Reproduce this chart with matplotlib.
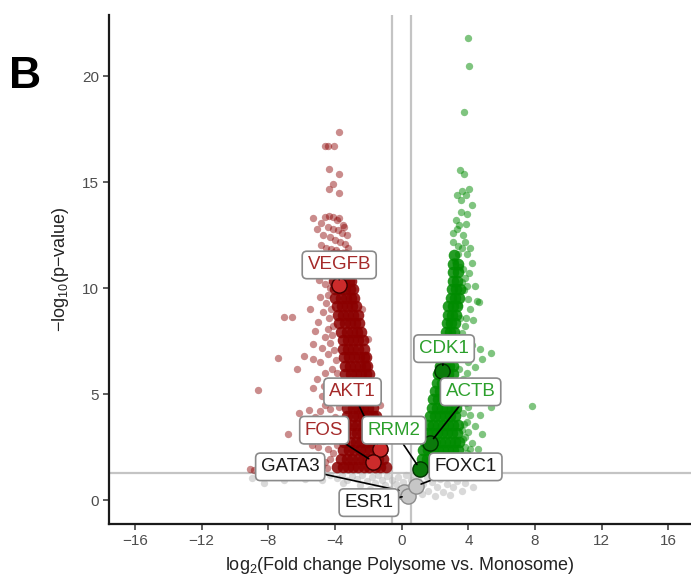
import matplotlib
matplotlib.use('Agg')
import matplotlib.pyplot as plt
import numpy as np

plt.rcParams['font.family'] = ['Liberation Sans', 'DejaVu Sans']
plt.rcParams['mathtext.fontset'] = 'custom'
plt.rcParams['mathtext.rm'] = 'Liberation Sans'
plt.rcParams['mathtext.default'] = 'regular'

# ---- data: (log2 FC, -log10 p) ----
# dense part of the down-regulated cloud, one row per -log10(p) level
red_core = [
    (1.55, [-3.9, -3.55, -3.2, -2.9, -2.6, -2.25, -1.95, -1.6, -1.3, -0.97]),
    (1.95, [-3.65, -3.3, -3.0, -2.65, -2.35, -2.0, -1.7, -1.4, -1.1]),
    (2.35, [-3.5, -3.15, -2.85, -2.5, -2.2, -1.9, -1.55, -1.2]),
    (2.75, [-3.45, -3.1, -2.75, -2.45, -2.1, -1.8, -1.5, -1.28]),
    (3.15, [-3.4, -3.05, -2.7, -2.4, -2.05, -1.75, -1.4]),
    (3.55, [-3.35, -3.0, -2.7, -2.35, -2.05, -1.75, -1.5]),
    (3.95, [-3.3, -2.95, -2.65, -2.3, -2.0, -1.7, -1.55]),
    (4.35, [-3.3, -2.95, -2.6, -2.3, -2.0, -1.7]),
    (4.75, [-3.3, -2.95, -2.6, -2.3, -2.0, -1.75]),
    (5.15, [-3.3, -2.95, -2.65, -2.35, -2.05, -1.8]),
    (5.55, [-3.35, -3.0, -2.7, -2.4, -2.1, -1.9]),
    (5.95, [-3.4, -3.05, -2.75, -2.45, -2.15, -1.98]),
    (6.35, [-3.4, -3.1, -2.8, -2.5, -2.2, -2.06]),
    (6.75, [-3.45, -3.15, -2.85, -2.55, -2.25, -2.15]),
    (7.15, [-3.5, -3.2, -2.9, -2.6, -2.25]),
    (7.55, [-3.55, -3.25, -2.95, -2.65, -2.35]),
    (7.95, [-3.65, -3.3, -3.0, -2.7, -2.45]),
    (8.35, [-3.75, -3.4, -3.1, -2.8, -2.55]),
    (8.75, [-3.85, -3.5, -3.2, -2.9, -2.65]),
    (9.15, [-3.9, -3.6, -3.3, -3.0, -2.75]),
    (9.55, [-4.0, -3.65, -3.35, -3.05, -2.85]),
    (9.95, [-4.0, -3.7, -3.4, -3.1, -2.95]),
    (10.35, [-4.05, -3.75, -3.45, -3.15, -3.05]),
    (10.75, [-4.1, -3.8, -3.5, -3.2]),
    (11.15, [-4.15, -3.85, -3.55, -3.3]),
    (11.55, [-4.1, -3.8, -3.5, -3.35]),
]

red_sparse = [
    (-5.35, 13.3), (-4.6, 13.35), (-4.35, 13.4), (-4.1, 13.35), (-3.9, 13.2),
    (-3.75, 13.3), (-3.5, 13.0), (-4.45, 12.9), (-4.15, 12.8), (-3.85, 12.75),
    (-3.6, 12.6), (-3.3, 12.5), (-4.7, 12.5), (-4.3, 12.4), (-4.0, 12.3),
    (-3.7, 12.2), (-3.4, 12.1), (-4.85, 12.05), (-4.55, 11.9), (-4.25, 11.85),
    (-3.95, 11.8), (-3.2, 11.9), (-4.75, 11.5), (-3.1, 11.3),
    (-4.85, 13.1), (-3.45, 12.9), (-5.1, 12.8), (-5.05, 11.6), (-4.5, 11.2),
    (-3.76, 17.37), (-4.61, 16.71), (-4.41, 16.71), (-4.09, 16.71),
    (-4.35, 15.64), (-3.76, 15.4), (-4.15, 14.9), (-4.35, 14.7), (-3.76, 14.5),
    (-4.8, 10.8), (-4.6, 10.2), (-4.9, 9.6), (-4.55, 9.3), (-4.7, 8.9),
    (-5.0, 8.4), (-4.4, 8.1), (-4.6, 7.7), (-5.35, 7.36), (-4.3, 7.4),
    (-4.45, 6.9), (-5.89, 6.79), (-5.35, 6.68), (-4.9, 6.5), (-4.2, 6.2),
    (-4.6, 6.0), (-5.1, 5.7), (-4.1, 5.5), (-4.4, 5.1), (-4.8, 4.9),
    (-4.05, 4.7), (-4.3, 4.3), (-4.9, 4.2), (-5.55, 4.25), (-6.15, 4.12),
    (-4.0, 3.9), (-4.6, 3.7), (-4.25, 3.4), (-5.0, 3.3), (-4.1, 3.0),
    (-4.7, 2.8), (-5.4, 2.6), (-4.4, 2.4), (-5.0, 2.1), (-4.6, 1.8),
    (-5.6, 1.7), (-5.2, 1.5), (-6.0, 1.5), (-6.81, 3.14), (-6.29, 6.21),
    (-7.45, 6.73), (-7.05, 8.65), (-6.61, 8.65), (-8.65, 5.19),
    (-9.08, 1.45), (-8.85, 1.42),
    (-4.0, 10.6), (-4.3, 10.0), (-4.45, 9.7), (-4.25, 9.0), (-4.35, 8.6),
    (-4.15, 8.2), (-4.2, 7.8), (-4.05, 7.1), (-3.95, 6.6), (-3.9, 6.0),
    (-3.85, 5.3), (-3.8, 4.9), (-3.75, 4.4), (-3.7, 3.7), (-3.8, 3.2),
    (-3.9, 2.6), (-4.1, 2.2), (-4.3, 1.95), (-4.5, 1.5), (-4.8, 1.6),
    (-5.0, 2.5), (-5.2, 3.0), (-5.2, 3.9), (-4.6, 4.5), (-4.65, 5.4),
    (-5.3, 5.3), (-4.8, 7.2), (-5.2, 8.0), (-5.5, 9.0), (-4.95, 10.4),
    (-1.0, 3.4), (-1.3, 4.5), (-1.6, 5.6), (-2.0, 7.6), (-2.4, 9.0),
]

# dense part of the up-regulated cloud
green_core = [
    (1.55, [1.1, 1.4, 1.7, 2.0, 2.3, 2.6, 2.9, 3.2, 3.5]),
    (1.95, [1.2, 1.5, 1.8, 2.1, 2.4, 2.7, 3.0, 3.3, 3.6]),
    (2.35, [1.3, 1.6, 1.9, 2.2, 2.5, 2.8, 3.1, 3.4]),
    (2.75, [1.4, 1.7, 2.0, 2.3, 2.6, 2.9, 3.2, 3.45]),
    (3.15, [1.5, 1.8, 2.1, 2.4, 2.7, 3.0, 3.3]),
    (3.55, [1.6, 1.9, 2.2, 2.5, 2.8, 3.1, 3.35]),
    (3.95, [1.7, 2.0, 2.3, 2.6, 2.9, 3.2]),
    (4.35, [1.8, 2.1, 2.4, 2.7, 3.0, 3.25]),
    (4.75, [1.9, 2.2, 2.5, 2.8, 3.1]),
    (5.15, [2.0, 2.3, 2.6, 2.9, 3.15]),
    (5.55, [2.1, 2.4, 2.7, 3.0]),
    (5.95, [2.2, 2.5, 2.8, 3.05]),
    (6.35, [2.3, 2.6, 2.85, 3.1]),
    (6.75, [2.4, 2.7, 2.95]),
    (7.15, [2.5, 2.75, 3.0]),
    (7.55, [2.6, 2.85, 3.1]),
    (7.95, [2.65, 2.9, 3.15]),
    (8.35, [2.7, 2.95, 3.2]),
    (8.75, [2.75, 3.0, 3.25]),
    (9.15, [2.8, 3.05, 3.3]),
    (9.55, [2.95, 3.2, 3.45]),
    (9.95, [3.0, 3.25, 3.5]),
    (10.35, [3.05, 3.3]),
    (10.75, [3.1, 3.35]),
    (11.15, [3.1, 3.4]),
    (11.55, [3.15]),
]

green_sparse = [
    (4.0, 21.8), (4.03, 20.5), (3.71, 18.3), (3.5, 15.6), (3.74, 15.4),
    (4.03, 14.7), (3.64, 14.6), (3.34, 14.4), (3.83, 14.4), (3.53, 14.15),
    (4.24, 13.95), (3.53, 13.6), (3.24, 13.2), (3.83, 13.05),
    (3.3, 12.8), (3.7, 12.5), (3.1, 12.2), (3.6, 11.9), (3.9, 11.6),
    (3.2, 11.3), (3.5, 11.0), (4.2, 11.2), (3.8, 10.5), (4.4, 10.1),
    (4.03, 10.7), (3.94, 10.1), (4.53, 9.4), (4.63, 9.35), (4.1, 9.0),
    (4.3, 8.5), (3.8, 8.2), (4.0, 7.6), (4.69, 7.15), (4.83, 6.68),
    (5.33, 6.95), (4.4, 6.3), (3.9, 6.0), (4.2, 5.6), (4.6, 5.3),
    (3.8, 5.0), (4.4, 4.8), (5.33, 4.4), (4.0, 4.4), (4.7, 4.0),
    (3.9, 3.7), (4.4, 3.5), (4.83, 3.14), (3.8, 3.0), (4.2, 2.7),
    (4.6, 2.4), (3.9, 2.2), (4.3, 1.9), (4.7, 1.6), (4.0, 1.5),
    (7.83, 4.43),
    (3.7, 1.7), (3.8, 2.5), (3.6, 3.3), (3.65, 4.1), (3.5, 4.6),
    (3.55, 5.4), (3.45, 6.2), (3.4, 6.8), (3.5, 7.3), (3.6, 7.9),
    (3.5, 8.6), (3.45, 9.2),
    (3.55, 1.6), (3.9, 1.8), (4.1, 2.4), (3.7, 2.9), (4.0, 3.2),
    (3.75, 3.6), (4.1, 4.0), (3.85, 4.6), (4.1, 5.1), (3.7, 5.7),
    (4.0, 6.5), (3.75, 7.0), (4.2, 7.3), (3.85, 8.6), (4.0, 9.5),
    (3.75, 9.9), (4.1, 11.9), (3.4, 12.0), (3.8, 12.2), (3.45, 13.0),
    (3.1, 12.6), (3.9, 13.5), (3.7, 10.9), (3.35, 11.6), (3.6, 10.3),
]

grey_pts = [
    (-9.0, 1.05), (-8.27, 0.8), (-7.07, 0.94), (-6.5, 1.1), (-5.8, 1.0),
    (-5.2, 1.15), (-4.8, 0.95), (-4.3, 1.2), (-3.9, 1.05), (-3.6, 1.2),
    (-3.3, 0.95), (-3.0, 1.15), (-2.7, 1.0), (-2.4, 1.2), (-2.1, 0.9),
    (-1.8, 1.1), (-1.6, 0.8), (-1.4, 1.2), (-1.2, 0.95), (-1.0, 0.7),
    (-0.9, 1.15), (-0.7, 0.5), (-0.6, 0.95), (-0.4, 0.3), (-0.35, 0.75),
    (-0.2, 1.1), (-0.1, 0.5), (0.05, 0.85), (0.2, 0.15), (0.25, 1.2),
    (0.4, 0.6), (0.55, 0.95), (0.6, 0.3), (0.75, 1.2), (0.9, 0.5),
    (1.0, 0.95), (1.2, 0.3), (1.3, 0.75), (1.5, 1.1), (1.6, 0.45),
    (1.8, 0.85), (2.0, 0.2), (2.1, 0.6), (2.3, 1.0), (2.5, 0.4),
    (2.7, 0.75), (2.9, 0.25), (3.1, 0.6), (3.3, 0.9), (3.6, 0.45),
    (3.8, 0.8), (4.3, 0.6), (-2.5, 0.7), (-1.9, 0.5), (-3.5, 0.8),
]

# highlighted genes: name, log2FC, -log10p, group, label position
genes = ['VEGFB', 'AKT1', 'FOS', 'GATA3', 'ESR1', 'RRM2', 'ACTB', 'CDK1', 'FOXC1']
gene_x = [-3.75, -1.32, -1.70, 0.15, 0.35, 1.10, 1.70, 2.44, 0.85]
gene_y = [10.14, 2.41, 1.81, 0.40, 0.20, 1.46, 2.70, 6.10, 0.66]
gene_grp = ['down', 'down', 'down', 'ns', 'ns', 'up', 'up', 'up', 'ns']
lab_x = [-3.75, -2.95, -4.65, -6.69, -1.97, -0.47, 4.13, 2.54, 3.83]
lab_y = [11.1, 5.11, 3.30, 1.57, -0.12, 3.30, 5.11, 7.15, 1.57]

fc_cut = np.log2(1.5)
p_cut = -np.log10(0.05)


def rows_to_xy(rows):
    xs = [x for y, row in rows for x in row]
    ys = [y for y, row in rows for x in row]
    return xs, ys


fig = plt.figure(figsize=(6.91, 5.78), dpi=100)
ax = fig.add_axes([0.1577, 0.0934, 0.8423, 0.8806])

ax.axvline(-fc_cut, color='#c4c4c4', lw=1.6, zorder=1)
ax.axvline(fc_cut, color='#c4c4c4', lw=1.6, zorder=1)
ax.axhline(p_cut, color='#c4c4c4', lw=1.6, zorder=1)

gx, gy = zip(*grey_pts)
ax.scatter(gx, gy, s=28, color='#b5b5b5', alpha=0.5, lw=0, zorder=2)

rx, ry = zip(*red_sparse)
ax.scatter(rx, ry, s=28, color='#8b0000', alpha=0.45, lw=0, zorder=2)
rx, ry = rows_to_xy(red_core)
ax.scatter(rx, ry, s=70, color='#8b0000', alpha=0.85, lw=0, zorder=2)

grx, gry = zip(*green_sparse)
ax.scatter(grx, gry, s=28, color='#008b00', alpha=0.5, lw=0, zorder=2)
grx, gry = rows_to_xy(green_core)
ax.scatter(grx, gry, s=70, color='#008b00', alpha=0.85, lw=0, zorder=2)

fill = {'down': '#cc2b2b', 'up': '#0b7a0b', 'ns': '#c6c6c6'}
edge = {'down': '#3a0000', 'up': '#003300', 'ns': '#8c8c8c'}
txt = {'down': '#a52a2a', 'up': '#2ca02c', 'ns': '#1a1a1a'}

for i, g in enumerate(genes):
    grp = gene_grp[i]
    ax.scatter(gene_x[i], gene_y[i], s=120, color=fill[grp], edgecolor=edge[grp],
               lw=1.0, zorder=4)
    ax.annotate(g, xy=(gene_x[i], gene_y[i]), xytext=(lab_x[i], lab_y[i]),
                ha='center', va='center', fontsize=13.5, color=txt[grp], zorder=6,
                bbox=dict(boxstyle='round,pad=0.28,rounding_size=0.25',
                          fc='white', ec='#8a8a8a', lw=1.2),
                arrowprops=dict(arrowstyle='-', color='black', lw=1.2,
                                shrinkA=0, shrinkB=4))

ax.set_xlim(-17.56, 17.35)
ax.set_ylim(-1.13, 22.9)
ax.set_xticks(np.arange(-16, 17, 4))
ax.set_yticks([0, 5, 10, 15, 20])
ax.tick_params(axis='both', direction='out', length=4, width=1.1,
               color='#333333', labelcolor='#4d4d4d', labelsize=11, pad=3)
for side in ['top', 'right']:
    ax.spines[side].set_visible(False)
for side in ['left', 'bottom']:
    ax.spines[side].set_linewidth(1.6)
    ax.spines[side].set_color('#1a1a1a')

ax.set_xlabel('log$_{2}$(Fold change Polysome vs. Monosome)', fontsize=13,
              color='#222222', labelpad=5)
ax.set_ylabel('\u2212log$_{10}$(p\u2212value)', fontsize=13, color='#222222',
              labelpad=8)

fig.text(0.036, 0.868, 'B', fontsize=32, fontweight='bold', ha='center',
         va='center')

fig.savefig('out.png', dpi=100)
